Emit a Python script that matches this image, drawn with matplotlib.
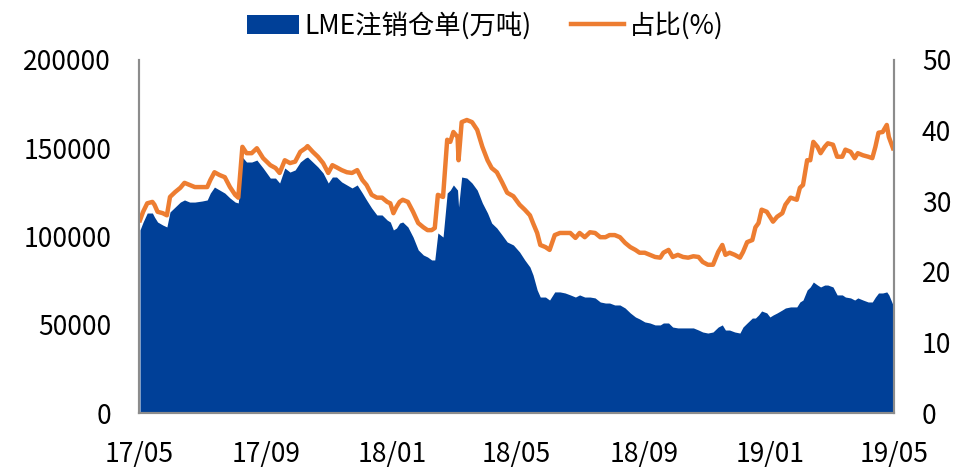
import matplotlib
matplotlib.use('Agg')
import matplotlib.pyplot as plt
import matplotlib.dates as mdates
import pandas as pd

plt.rcParams['font.family'] = ['Noto Sans CJK SC', 'DejaVu Sans']

# 数据
dates = ['2017-05-02', '2017-05-05', '2017-05-09', '2017-05-14', '2017-05-16', '2017-05-19',
         '2017-05-24', '2017-05-28', '2017-05-31', '2017-06-05', '2017-06-10', '2017-06-14',
         '2017-06-19', '2017-06-24', '2017-07-01', '2017-07-06', '2017-07-09', '2017-07-13',
         '2017-07-18', '2017-07-23', '2017-07-28', '2017-08-02', '2017-08-05', '2017-08-09',
         '2017-08-13', '2017-08-18', '2017-08-23', '2017-08-29', '2017-09-05', '2017-09-10',
         '2017-09-14', '2017-09-19', '2017-09-24', '2017-09-29', '2017-10-04', '2017-10-09',
         '2017-10-11', '2017-10-16', '2017-10-21', '2017-10-26', '2017-10-31', '2017-11-04',
         '2017-11-08', '2017-11-13', '2017-11-18', '2017-11-23', '2017-11-28', '2017-12-03',
         '2017-12-07', '2017-12-12', '2017-12-17', '2017-12-22', '2017-12-27', '2017-12-30',
         '2018-01-02', '2018-01-05', '2018-01-08', '2018-01-11', '2018-01-16', '2018-01-21',
         '2018-01-26', '2018-01-31', '2018-02-04', '2018-02-08', '2018-02-11', '2018-02-14',
         '2018-02-19', '2018-02-23', '2018-02-26', '2018-03-01', '2018-03-05', '2018-03-06',
         '2018-03-09', '2018-03-14', '2018-03-19', '2018-03-24', '2018-03-29', '2018-04-03',
         '2018-04-07', '2018-04-12', '2018-04-17', '2018-04-22', '2018-04-28', '2018-05-04',
         '2018-05-09', '2018-05-14', '2018-05-17', '2018-05-21', '2018-05-24', '2018-05-29',
         '2018-06-02', '2018-06-07', '2018-06-12', '2018-06-17', '2018-06-22', '2018-06-27',
         '2018-07-01', '2018-07-06', '2018-07-11', '2018-07-16', '2018-07-21', '2018-07-26',
         '2018-07-30', '2018-08-04', '2018-08-09', '2018-08-14', '2018-08-19', '2018-08-24',
         '2018-08-28', '2018-09-02', '2018-09-07', '2018-09-12', '2018-09-17', '2018-09-20',
         '2018-09-25', '2018-09-29', '2018-10-04', '2018-10-09', '2018-10-14', '2018-10-19',
         '2018-10-24', '2018-10-28', '2018-11-02', '2018-11-07', '2018-11-12', '2018-11-16',
         '2018-11-19', '2018-11-23', '2018-11-28', '2018-12-03', '2018-12-06', '2018-12-10',
         '2018-12-15', '2018-12-18', '2018-12-21', '2018-12-24', '2018-12-29', '2019-01-01',
         '2019-01-04', '2019-01-08', '2019-01-13', '2019-01-16', '2019-01-21', '2019-01-27',
         '2019-01-30', '2019-02-02', '2019-02-06', '2019-02-09', '2019-02-12', '2019-02-16',
         '2019-02-19', '2019-02-23', '2019-02-26', '2019-03-03', '2019-03-07', '2019-03-12',
         '2019-03-15', '2019-03-20', '2019-03-24', '2019-03-27', '2019-04-01', '2019-04-06',
         '2019-04-10', '2019-04-13', '2019-04-16', '2019-04-20', '2019-04-24', '2019-04-26',
         '2019-04-30']

# LME注销仓单
cancelled = [103700, 108200, 113300, 113300, 111000, 108200, 106500, 105400, 113900, 116700,
             119500, 120700, 119500, 119500, 120100, 120700, 124600, 128000, 126300, 124600,
             121800, 119500, 119000, 145000, 142200, 142200, 143300, 138800, 133100, 133100,
             130300, 138800, 136500, 137700, 142200, 144500, 145000, 142200, 139400, 136000,
             130300, 133700, 133700, 130900, 129200, 127500, 129200, 124600, 120700, 116100,
             112200, 112200, 109300, 108200, 103700, 104800, 107600, 108200, 105400, 99700,
             92400, 89500, 88400, 86700, 86700, 102000, 99700, 124600, 126300, 129200,
             126300, 116700, 133700, 133100, 130300, 126300, 119000, 113300, 107600, 104800,
             100900, 96900, 95200, 91200, 86700, 82700, 78200, 69700, 65700, 65700,
             64000, 68600, 68600, 68000, 66900, 65700, 66900, 65700, 65700, 65200,
             62900, 62300, 62300, 61200, 61200, 59500, 56700, 54400, 53300, 51600,
             51000, 49900, 49900, 51000, 51000, 48700, 48200, 48200, 48200, 48200,
             47000, 45900, 45300, 45900, 48700, 49900, 47000, 47000, 45900, 45300,
             48700, 51000, 53800, 53800, 55500, 57800, 56700, 54400, 55500, 56700,
             58400, 59500, 60100, 60100, 62900, 64000, 69700, 71400, 74200, 72500,
             71400, 72500, 72500, 71400, 66900, 66900, 65700, 65200, 64000, 65200,
             64000, 62900, 62900, 65700, 68000, 68000, 68600, 66900, 61200]

# 占比(%)
ratio = [27.3, 28.5, 29.7, 29.9, 29.5, 28.5, 28.3, 28.0, 30.6, 31.3,
         31.9, 32.6, 32.3, 32.0, 32.0, 32.0, 33.0, 34.1, 33.7, 33.4,
         32.0, 30.9, 30.5, 37.7, 36.8, 36.8, 37.5, 36.1, 35.1, 34.7,
         34.0, 35.8, 35.4, 35.6, 37.0, 37.5, 37.8, 37.0, 36.3, 35.4,
         34.0, 35.1, 34.8, 34.4, 34.1, 34.0, 34.4, 33.0, 32.3, 30.9,
         30.5, 30.5, 29.9, 29.7, 28.3, 29.2, 29.9, 30.2, 29.9, 28.5,
         26.9, 26.3, 25.9, 25.9, 26.2, 30.9, 30.6, 38.7, 38.4, 39.8,
         39.1, 35.8, 41.2, 41.5, 41.2, 40.1, 37.7, 35.8, 34.7, 34.1,
         32.7, 31.2, 30.7, 29.5, 28.8, 28.0, 26.9, 25.5, 23.8, 23.5,
         23.1, 25.2, 25.5, 25.5, 25.5, 24.8, 25.5, 24.9, 25.6, 25.5,
         24.9, 24.9, 25.2, 25.2, 24.9, 24.1, 23.5, 23.1, 22.7, 22.7,
         22.4, 22.1, 22.0, 22.7, 23.1, 22.1, 22.4, 22.1, 22.0, 22.2,
         22.1, 21.4, 21.0, 21.0, 22.8, 23.8, 22.4, 22.7, 22.4, 22.0,
         22.8, 24.2, 24.5, 26.3, 26.9, 28.8, 28.5, 27.8, 27.1, 27.8,
         28.3, 29.5, 30.5, 30.2, 31.9, 32.3, 35.8, 35.8, 38.4, 37.7,
         36.8, 37.7, 38.2, 38.0, 36.3, 36.3, 37.3, 37.0, 36.1, 36.8,
         36.5, 36.3, 36.1, 37.7, 39.7, 39.8, 40.8, 39.1, 37.5]

x = pd.to_datetime(dates)
tick_labels = ['17/05', '17/09', '18/01', '18/05', '18/09', '19/01', '19/05']
tick_dates = pd.to_datetime(['2017-05-01', '2017-09-01', '2018-01-01', '2018-05-01',
                             '2018-09-01', '2019-01-01', '2019-05-01'])

blue = '#004098'
orange = '#ED7D31'
grey = '#8C8C8C'

fig = plt.figure(figsize=(9.61, 4.69), dpi=100)
ax = fig.add_axes([0.1446, 0.1194, 0.7857, 0.7527])
ax2 = ax.twinx()

ax.fill_between(x, cancelled, 0, color=blue, linewidth=0, label='LME注销仓单(万吨)')
ax2.plot(x, ratio, color=orange, linewidth=3.2, label='占比(%)')

ax.set_xlim(tick_dates[0], tick_dates[-1])
ax.set_ylim(0, 200000)
ax2.set_ylim(0, 50)
ax.set_yticks([0, 50000, 100000, 150000, 200000])
ax2.set_yticks([0, 10, 20, 30, 40, 50])
ax.set_xticks(tick_dates)
ax.set_xticklabels(tick_labels)

for a in (ax, ax2):
    a.spines['top'].set_visible(False)
    for s in ('left', 'right', 'bottom'):
        a.spines[s].set_color(grey)
        a.spines[s].set_linewidth(1.5)
ax.tick_params(axis='both', length=0, labelsize=19, pad=20)
ax2.tick_params(axis='y', length=0, labelsize=19, pad=20)

h1, l1 = ax.get_legend_handles_labels()
h2, l2 = ax2.get_legend_handles_labels()
fig.legend(h1 + h2, l1 + l2, loc='center', bbox_to_anchor=(0.505, 0.945), ncol=2,
           frameon=False, fontsize=19, handlelength=2.0, handletextpad=0.2,
           columnspacing=1.5)

fig.savefig('out.png', dpi=100, facecolor='white')
